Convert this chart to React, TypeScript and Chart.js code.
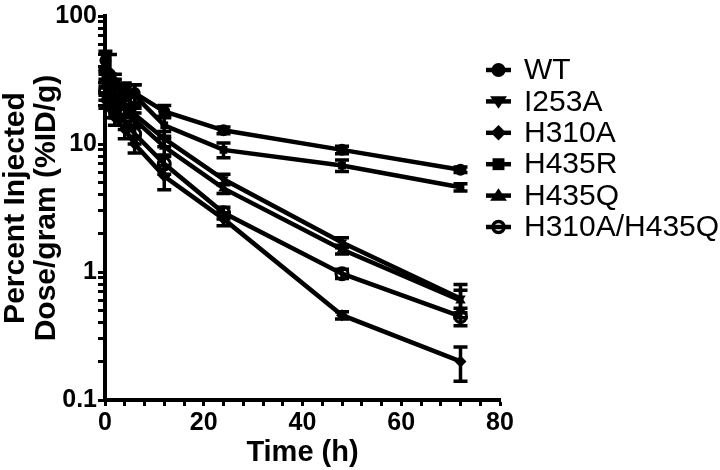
import React, { useEffect, useRef } from "react";
import { Chart, registerables } from "chart.js";

Chart.register(...registerables);

const times = [0.083, 1, 2, 4, 6, 12, 24, 48, 72];
const seriesNames = ["WT", "I253A", "H310A", "H435R", "H435Q", "H310A/H435Q"];

const wtValues = [45, 35, 30, 27, 25, 18, 12.8, 9.0, 6.3];
const wtErrors = [8, 15, 5, 3, 4, 2, 0.8, 0.6, 0.3];
const i253aValues = [30, 26, 24, 20, 17, 11, 5.3, 1.7, 0.62];
const i253aErrors = [5, 4, 4, 3, 3, 1.5, 0.5, 0.15, 0.18];
const h310aValues = [22, 19, 16, 13, 10, 5.6, 2.6, 0.46, 0.2];
const h310aErrors = [3, 3, 2, 2, 1.5, 1.2, 0.3, 0.03, 0.06];
const h435rValues = [33, 30, 28, 25, 24, 14, 9.0, 6.8, 4.6];
const h435rErrors = [5, 5, 4, 3, 5, 2.5, 1.2, 0.7, 0.3];
const h435qValues = [28, 24, 22, 19, 15.5, 9.5, 4.5, 1.5, 0.6];
const h435qErrors = [4, 4, 3, 3, 2, 1.5, 0.4, 0.12, 0.12];
const dblValues = [26, 22, 19, 15, 12, 7, 2.9, 0.97, 0.45];
const dblErrors = [4, 3, 3, 2, 2, 1.2, 0.3, 0.08, 0.07];

const yTickValues = [0.1, 0.2, 0.3, 0.4, 0.5, 0.6, 0.7, 0.8, 0.9, 1, 2, 3, 4, 5, 6, 7, 8, 9, 10, 20, 30, 40, 50, 60, 70, 80, 90, 100];
const yTickLabels: Record<string, string> = { "0.1": "0.1", "1": "1", "10": "10", "100": "100" };
const xTickValues = [0, 4, 8, 12, 16, 20, 24, 28, 32, 36, 40, 44, 48, 52, 56, 60, 64, 68, 72, 76, 80];
const xTickLabels: Record<string, string> = { "0": "0", "20": "20", "40": "40", "60": "60", "80": "80" };

const allValues = [wtValues, i253aValues, h310aValues, h435rValues, h435qValues, dblValues];
const allErrors = [wtErrors, i253aErrors, h310aErrors, h435rErrors, h435qErrors, dblErrors];

const markerStyles = [
  { style: "circle", rotation: 0, fill: true },
  { style: "triangle", rotation: 180, fill: true },
  { style: "rectRot", rotation: 0, fill: true },
  { style: "rect", rotation: 0, fill: true },
  { style: "triangle", rotation: 0, fill: true },
  { style: "circle", rotation: 0, fill: false },
];

const FONT = "'Liberation Sans', Arial, sans-serif";

function drawMarker(ctx: CanvasRenderingContext2D, idx: number, x: number, y: number, r: number) {
  const m = markerStyles[idx];
  ctx.save();
  ctx.translate(x, y);
  ctx.rotate((m.rotation * Math.PI) / 180);
  ctx.beginPath();
  if (m.style === "circle") {
    ctx.arc(0, 0, m.fill ? r : r - 1.5, 0, Math.PI * 2);
  } else if (m.style === "triangle") {
    const h = r * 1.05;
    ctx.moveTo(0, -h);
    ctx.lineTo(h * 1.15, h * 0.7);
    ctx.lineTo(-h * 1.15, h * 0.7);
    ctx.closePath();
  } else if (m.style === "rectRot") {
    const h = r * 1.1;
    ctx.moveTo(0, -h);
    ctx.lineTo(h, 0);
    ctx.lineTo(0, h);
    ctx.lineTo(-h, 0);
    ctx.closePath();
  } else if (m.style === "rect") {
    const h = r * 0.85;
    ctx.rect(-h, -h, 2 * h, 2 * h);
  }
  if (m.fill) {
    ctx.fillStyle = "#000";
    ctx.fill();
  } else {
    ctx.lineWidth = 3.5;
    ctx.strokeStyle = "#000";
    ctx.stroke();
  }
  ctx.restore();
}

const errorBarPlugin = {
  id: "errorBars",
  afterDatasetsDraw(chart: any) {
    const ctx = chart.ctx as CanvasRenderingContext2D;
    const xs = chart.scales.x;
    const ys = chart.scales.y;
    ctx.save();
    ctx.strokeStyle = "#000";
    ctx.lineWidth = 3.5;
    allValues.forEach((vals, si) => {
      vals.forEach((v, i) => {
        const e = allErrors[si][i];
        const x = xs.getPixelForValue(times[i]);
        const yTop = ys.getPixelForValue(v + e);
        const yBot = ys.getPixelForValue(Math.max(v - e, 0.1001));
        ctx.beginPath();
        ctx.moveTo(x, yTop);
        ctx.lineTo(x, yBot);
        ctx.moveTo(x - 7, yTop);
        ctx.lineTo(x + 7, yTop);
        ctx.moveTo(x - 7, yBot);
        ctx.lineTo(x + 7, yBot);
        ctx.stroke();
      });
    });
    ctx.restore();
  },
};

const legendPlugin = {
  id: "customLegend",
  afterDraw(chart: any) {
    const ctx = chart.ctx as CanvasRenderingContext2D;
    ctx.save();
    seriesNames.forEach((name, i) => {
      const y = 70 + i * 31.4;
      ctx.strokeStyle = "#000";
      ctx.lineWidth = 4.5;
      ctx.beginPath();
      ctx.moveTo(486, y);
      ctx.lineTo(511, y);
      ctx.stroke();
      drawMarker(ctx, i, 498.5, y, 7);
      ctx.fillStyle = "#000";
      ctx.font = `30px ${FONT}`;
      ctx.textBaseline = "middle";
      ctx.textAlign = "left";
      ctx.fillText(name, 524, y + 1);
    });
    ctx.restore();
  },
};

export default function App() {
  const ref = useRef<HTMLCanvasElement | null>(null);
  useEffect(() => {
    if (!ref.current) return;
    const datasets = seriesNames.map((name, si) => ({
      label: name,
      data: times.map((t, i) => ({ x: t, y: allValues[si][i] })),
      borderColor: "#000",
      borderWidth: 4.5,
      pointStyle: markerStyles[si].style as any,
      pointRotation: markerStyles[si].rotation,
      pointRadius: markerStyles[si].style === "rect" ? 5.5 : 6,
      pointBackgroundColor: markerStyles[si].fill ? "#000" : "rgba(0,0,0,0)",
      pointBorderColor: "#000",
      pointBorderWidth: markerStyles[si].fill ? 0 : 3,
      fill: false,
      tension: 0,
      clip: false as any,
    }));
    const chart = new Chart(ref.current, {
      type: "line",
      data: { datasets },
      options: {
        animation: false,
        responsive: false,
        layout: { padding: { top: 10, right: 220, left: 0, bottom: 0 } },
        plugins: { legend: { display: false }, tooltip: { enabled: false } },
        scales: {
          x: {
            type: "linear",
            min: 0,
            max: 80,
            afterBuildTicks: (s: any) => {
              s.ticks = xTickValues.map((v) => ({ value: v }));
            },
            afterFit: (s: any) => {
              s.height = 70;
            },
            border: { color: "#000", width: 4 },
            grid: { drawOnChartArea: false, drawTicks: true, tickLength: 6, tickWidth: 3, tickColor: "#000" },
            ticks: {
              autoSkip: false,
              maxRotation: 0,
              padding: 2,
              color: "#000",
              font: { family: FONT, size: 25, weight: "bold" },
              callback: (v: any) => xTickLabels[String(v)] ?? "",
            },
            title: {
              display: true,
              text: "Time (h)",
              color: "#000",
              font: { family: FONT, size: 29, weight: "bold" },
              padding: { top: 0, bottom: 0 },
            },
          },
          y: {
            type: "logarithmic",
            min: 0.1,
            max: 100,
            afterBuildTicks: (s: any) => {
              s.ticks = yTickValues.map((v) => ({ value: v, major: yTickLabels[String(v)] !== undefined }));
            },
            afterFit: (s: any) => {
              s.width = 105;
            },
            border: { color: "#000", width: 4 },
            grid: { drawOnChartArea: false, drawTicks: true, tickLength: 7, tickWidth: 3, tickColor: "#000" },
            ticks: {
              autoSkip: false,
              padding: 1,
              color: "#000",
              font: { family: FONT, size: 25, weight: "bold" },
              callback: (v: any) => yTickLabels[String(v)] ?? "",
            },
            title: {
              display: true,
              text: ["Percent Injected", "Dose/gram (%ID/g)"],
              color: "#000",
              font: { family: FONT, size: 30, weight: "bold", lineHeight: 1.03 },
              padding: { top: 0, bottom: 0 },
            },
          },
        },
      } as any,
      plugins: [errorBarPlugin, legendPlugin],
    });
    return () => chart.destroy();
  }, []);
  return (
    <div style={{ position: "absolute", left: 0, top: 0, width: 720, height: 470, background: "#fff" }}>
      <canvas ref={ref} width={720} height={470} />
    </div>
  );
}
